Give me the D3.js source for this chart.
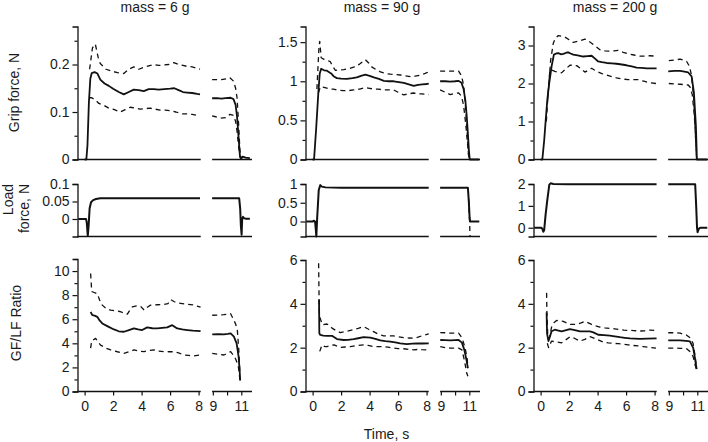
<!DOCTYPE html>
<html><head><meta charset="utf-8">
<script src="https://cdn.jsdelivr.net/npm/d3@7"></script>
<style>
html,body{margin:0;padding:0;background:#fff;}
svg{display:block;font-family:"Liberation Sans",Arial,sans-serif;}
</style></head>
<body>
<svg id="chart" width="708" height="442"></svg>
<script>
// ---------------- DATA ----------------
const masses = ["mass = 6 g", "mass = 90 g", "mass = 200 g"];
const rowLabels = [["Grip force, N"], ["Load", "force, N"], ["GF/LF Ratio"]];
const xTickValues = [0, 2, 4, 6, 8, 9, 10, 11];
const xTickLabels = ["0", "2", "4", "6", "8", "9", "", "11"];
const xLabel = "Time, s";

// Grip force (row 1)
const gripDomains = [[0, 0.28], [0, 1.7], [0, 3.5]];
const gripMajor = [[0, 0.1, 0.2], [0, 0.5, 1, 1.5], [0, 1, 2, 3]];
const gripMinor = [[0.05, 0.15, 0.25], [0.25, 0.75, 1.25], [0.5, 1.5, 2.5]];
// Load force (row 2)
const loadDomains = [[-0.05, 0.1], [-0.4, 1], [-0.4, 2]];
const loadMajor = [[0, 0.05, 0.1], [0, 0.5, 1], [0, 1, 2]];
// GF/LF ratio (row 3)
const ratioDomains = [[0, 11], [0, 6], [0, 6]];
const ratioMajor = [[0, 2, 4, 6, 8, 10], [0, 2, 4, 6], [0, 2, 4, 6]];
const ratioMinor = [[1, 3, 5, 7, 9, 11], [1, 3, 5], [1, 3, 5]];

// ---- grip 6 g
const grip6Mean = [[0,0],[0.12,0],[0.2,0.03],[0.3,0.12],[0.4,0.17],[0.5,0.182],[0.7,0.184],[0.9,0.181],[1.1,0.168],[1.4,0.16],[1.7,0.155],[2.0,0.149],[2.4,0.142],[2.75,0.137],[3.1,0.142],[3.45,0.147],[3.8,0.146],[4.15,0.144],[4.5,0.148],[4.85,0.148],[5.2,0.147],[5.6,0.148],[6.0,0.149],[6.3,0.15],[6.6,0.146],[6.9,0.142],[7.2,0.141],[7.55,0.14],[7.9,0.138],[8.1,0.137],
  [8.95,0.129],[9.3,0.129],[9.6,0.128],[9.9,0.129],[10.25,0.13],[10.45,0.127],[10.6,0.115],[10.7,0.09],[10.8,0.05],[10.9,0.008],[11.0,0.002],[11.1,0.006],[11.3,0.004],[11.6,0.003]];
const grip6Hi = [[0.35,0.19],[0.55,0.235],[0.75,0.243],[0.95,0.215],[1.1,0.202],[1.5,0.19],[1.9,0.186],[2.3,0.183],[2.75,0.181],[3.1,0.19],[3.45,0.195],[3.8,0.19],[4.15,0.194],[4.5,0.197],[4.85,0.2],[5.2,0.198],[5.56,0.199],[5.9,0.2],[6.26,0.204],[6.6,0.2],[6.9,0.198],[7.2,0.196],[7.55,0.195],[7.9,0.192],[8.1,0.19],
  [8.95,0.168],[9.3,0.168],[9.6,0.168],[10.0,0.17],[10.2,0.172],[10.45,0.165],[10.6,0.15],[10.7,0.13],[10.8,0.08],[10.9,0.02],[11.0,0]];
const grip6Lo = [[0.3,0.13],[0.5,0.13],[0.77,0.125],[1.0,0.118],[1.35,0.114],[1.7,0.108],[2.0,0.106],[2.5,0.1],[2.85,0.105],[3.2,0.11],[3.55,0.108],[3.9,0.106],[4.25,0.107],[4.6,0.108],[4.95,0.106],[5.3,0.104],[5.65,0.104],[6.0,0.103],[6.4,0.1],[6.85,0.096],[7.2,0.096],[7.55,0.095],[7.9,0.093],[8.1,0.093],
  [8.95,0.092],[9.2,0.09],[9.5,0.087],[9.9,0.088],[10.2,0.095],[10.45,0.093],[10.6,0.08],[10.7,0.06],[10.8,0.03],[10.9,0.005],[11.0,0]];
// ---- grip 90 g
const grip90Mean = [[0,0],[0.1,0],[0.25,0.4],[0.4,0.85],[0.5,1.1],[0.6,1.16],[0.8,1.14],[1.0,1.135],[1.3,1.1],[1.5,1.06],[1.7,1.04],[2.0,1.035],[2.4,1.03],[2.8,1.04],[3.1,1.05],[3.4,1.07],[3.7,1.084],[4.0,1.07],[4.3,1.05],[4.65,1.03],[5.0,1.006],[5.35,1.0],[5.7,1.0],[6.05,0.99],[6.4,0.98],[6.75,0.96],[7.1,0.94],[7.4,0.955],[7.7,0.96],[8.0,0.965],[8.15,0.97],
  [8.95,1.0],[9.3,1.0],[9.66,0.995],[10.0,1.0],[10.25,1.005],[10.45,0.98],[10.6,0.9],[10.72,0.76],[10.82,0.55],[10.9,0.33],[10.97,0.12],[11.03,0],[11.7,0]];
const grip90Hi = [[0.3,0.9],[0.45,1.45],[0.5,1.51],[0.6,1.3],[0.8,1.28],[1.0,1.27],[1.24,1.25],[1.45,1.18],[1.6,1.14],[1.9,1.145],[2.18,1.15],[2.5,1.16],[2.88,1.18],[3.3,1.22],[3.7,1.276],[3.95,1.23],[4.17,1.18],[4.45,1.15],[4.76,1.12],[5.1,1.1],[5.46,1.09],[5.8,1.085],[6.17,1.08],[6.5,1.07],[6.88,1.06],[7.2,1.065],[7.58,1.08],[7.9,1.1],[8.15,1.12],
  [8.95,1.13],[9.3,1.13],[9.66,1.13],[10.0,1.13],[10.25,1.13],[10.45,1.07],[10.6,0.95],[10.7,0.75],[10.8,0.5],[10.9,0.2],[10.97,0]];
const grip90Lo = [[0.4,0.85],[0.55,0.93],[0.87,0.92],[1.2,0.9],[1.47,0.9],[1.8,0.885],[2.18,0.88],[2.5,0.88],[2.88,0.89],[3.3,0.9],[3.7,0.92],[4.0,0.91],[4.28,0.9],[4.6,0.9],[4.98,0.89],[5.3,0.89],[5.68,0.89],[6.0,0.86],[6.39,0.826],[6.75,0.84],[7.1,0.85],[7.4,0.84],[7.67,0.84],[8.15,0.83],
  [8.95,0.89],[9.3,0.86],[9.66,0.83],[10.0,0.845],[10.25,0.85],[10.45,0.81],[10.6,0.69],[10.75,0.45],[10.85,0.25],[10.95,0.05],[11.0,0]];
// ---- grip 200 g
const grip200Mean = [[0,0],[0.12,0],[0.25,0.5],[0.35,1.0],[0.47,1.57],[0.6,2.0],[0.77,2.45],[0.93,2.76],[1.1,2.79],[1.24,2.8],[1.42,2.77],[1.6,2.78],[1.8,2.81],[1.94,2.82],[2.1,2.79],[2.29,2.76],[2.6,2.74],[2.99,2.71],[3.3,2.72],[3.58,2.73],[3.8,2.66],[4.04,2.58],[4.3,2.56],[4.63,2.54],[5.0,2.53],[5.33,2.52],[5.7,2.5],[6.03,2.48],[6.4,2.45],[6.74,2.42],[7.1,2.41],[7.44,2.4],[7.8,2.4],[8.14,2.4],
  [8.96,2.32],[9.4,2.33],[9.78,2.33],[10.1,2.31],[10.36,2.29],[10.6,2.19],[10.76,1.76],[10.85,1.2],[10.9,0.89],[10.94,0.4],[10.97,0],[11.7,0]];
const grip200Hi = [[0.5,1.6],[0.7,2.6],[0.89,3.06],[1.05,3.2],[1.24,3.26],[1.5,3.24],[1.71,3.22],[2.0,3.15],[2.29,3.08],[2.7,3.12],[3.11,3.17],[3.35,3.12],[3.58,3.06],[3.9,2.97],[4.16,2.89],[4.5,2.86],[4.87,2.85],[5.15,2.86],[5.45,2.87],[5.8,2.82],[6.15,2.78],[6.55,2.75],[6.97,2.72],[7.3,2.72],[7.67,2.73],[8.1,2.72],
  [9.0,2.6],[9.4,2.62],[9.8,2.64],[10.05,2.61],[10.25,2.58],[10.45,2.45],[10.6,2.2],[10.75,1.6],[10.85,0.8],[10.95,0]];
const grip200Lo = [[0.4,1.0],[0.55,1.9],[0.65,2.36],[0.8,2.35],[1.0,2.32],[1.2,2.3],[1.47,2.28],[1.75,2.38],[2.06,2.48],[2.3,2.48],[2.53,2.47],[2.8,2.4],[3.11,2.3],[3.35,2.35],[3.58,2.4],[3.8,2.35],[4.04,2.3],[4.3,2.26],[4.63,2.22],[5.0,2.18],[5.33,2.15],[5.7,2.12],[6.15,2.1],[6.5,2.1],[6.85,2.1],[7.25,2.06],[7.67,2.02],[8.1,2.0],
  [9.0,2.0],[9.4,1.99],[9.8,1.98],[10.1,1.97],[10.36,1.96],[10.5,1.9],[10.65,1.7],[10.8,1.1],[10.9,0.4],[10.95,0]];

// ---- load force
const load6Mean = [[-0.45,0],[0.1,0],[0.15,-0.01],[0.22,-0.048],[0.28,-0.02],[0.35,0.03],[0.45,0.048],[0.6,0.054],[0.8,0.057],[1.1,0.059],[2,0.059],[4,0.059],[6,0.059],[8.1,0.059],
  [8.95,0.059],[10,0.059],[10.85,0.059],[10.92,0.03],[10.97,-0.02],[11.02,-0.045],[11.06,0.0],[11.12,0.006],[11.2,0.002],[11.3,0.001],[11.6,0.001]];
const load90Mean = [[-0.45,0],[0.0,0],[0.1,0.02],[0.17,0.0],[0.22,-0.2],[0.26,-0.4],[0.32,0.1],[0.43,0.84],[0.54,0.97],[0.65,0.93],[0.9,0.91],[2,0.9],[4,0.9],[6,0.9],[8.15,0.9],
  [8.95,0.9],[10,0.9],[10.9,0.9],[10.97,0.5],[11.02,0.1],[11.06,0.0],[11.7,0]];
const load90Lo = [[10.95,0.6],[11.02,0.0],[11.05,-0.4]];
const load200Mean = [[-0.45,0],[0.05,0],[0.12,-0.05],[0.19,-0.18],[0.25,-0.1],[0.35,0.6],[0.47,1.27],[0.61,1.97],[0.7,2.03],[0.9,2.0],[2,1.99],[4,1.99],[6,1.99],[8.14,1.99],
  [8.96,1.99],[10,1.99],[10.85,1.99],[10.92,1.0],[10.98,0.0],[11.02,-0.2],[11.1,-0.05],[11.2,0],[11.7,0]];

// ---- GF/LF ratio
const ratio6Mean = [[0.42,6.6],[0.54,6.34],[0.7,6.3],[0.89,6.2],[1.05,5.9],[1.24,5.65],[1.59,5.43],[2.06,5.15],[2.4,5.0],[2.76,4.96],[3.11,5.1],[3.46,5.24],[3.75,5.15],[4.04,5.1],[4.39,5.32],[4.75,5.25],[5.1,5.24],[5.45,5.28],[5.8,5.32],[6.15,5.51],[6.5,5.24],[6.85,5.15],[7.2,5.1],[7.6,5.05],[8.14,5.02],
  [8.96,4.74],[9.4,4.76],[9.78,4.74],[10.05,4.78],[10.25,4.82],[10.48,4.55],[10.67,4.0],[10.81,2.9],[10.88,1.8],[10.92,0.9]];
const ratio6Hi = [[0.42,9.8],[0.5,8.3],[0.7,8.2],[0.89,8.13],[1.05,7.6],[1.24,7.17],[1.5,6.9],[1.83,6.76],[2.2,6.7],[2.53,6.62],[3.0,6.42],[3.2,6.8],[3.35,7.02],[3.65,7.1],[3.93,7.07],[4.18,6.76],[4.4,7.0],[4.63,7.17],[5.1,7.2],[5.57,7.22],[5.85,7.3],[6.04,7.63],[6.3,7.45],[6.5,7.35],[6.85,7.3],[7.2,7.24],[7.6,7.2],[8.14,7.0],
  [8.96,6.33],[9.4,6.35],[9.78,6.38],[10.25,6.46],[10.48,5.91],[10.6,5.6],[10.72,5.1],[10.82,3.5],[10.9,1.5]];
const ratio6Lo = [[0.42,3.6],[0.5,4.2],[0.77,4.41],[1.12,3.85],[1.5,3.6],[1.83,3.45],[2.3,3.3],[2.76,3.17],[3.1,3.3],[3.46,3.45],[3.8,3.35],[4.18,3.31],[4.5,3.4],[4.88,3.45],[5.2,3.35],[5.57,3.31],[5.9,3.3],[6.27,3.3],[6.6,3.2],[6.97,3.03],[7.3,3.0],[7.67,2.95],[8.14,3.03],
  [8.96,3.17],[9.3,3.1],[9.78,3.03],[10.25,3.31],[10.48,2.95],[10.6,2.7],[10.72,2.34],[10.8,2.0],[10.9,1.0]];
const ratio90Mean = [[0.45,4.2],[0.47,2.66],[0.54,2.58],[0.75,2.55],[1.0,2.54],[1.36,2.54],[1.71,2.39],[2.18,2.35],[2.5,2.36],[2.88,2.39],[3.2,2.43],[3.58,2.48],[4.05,2.46],[4.4,2.4],[4.75,2.33],[5.1,2.3],[5.45,2.28],[5.8,2.24],[6.15,2.2],[6.62,2.16],[7.0,2.18],[7.33,2.2],[7.7,2.19],[8.15,2.2],
  [8.96,2.35],[9.3,2.34],[9.66,2.33],[10.0,2.34],[10.25,2.35],[10.48,2.23],[10.65,1.9],[10.8,1.44],[10.9,1.06]];
const ratio90Hi = [[0.42,5.85],[0.45,4.4],[0.48,3.42],[0.7,3.04],[1.0,3.08],[1.2,3.0],[1.36,2.89],[1.65,2.78],[1.94,2.69],[2.4,2.75],[2.88,2.82],[3.2,2.88],[3.58,2.96],[3.9,2.85],[4.28,2.73],[4.6,2.62],[4.98,2.54],[5.3,2.54],[5.68,2.54],[6.0,2.5],[6.39,2.46],[6.75,2.44],[7.1,2.43],[7.4,2.48],[7.67,2.54],[8.15,2.63],
  [8.96,2.69],[9.3,2.68],[9.66,2.66],[10.0,2.66],[10.25,2.66],[10.5,2.43],[10.7,2.0],[10.85,1.5],[10.9,1.1]];
const ratio90Lo = [[0.5,1.83],[0.66,2.13],[0.85,2.05],[1.0,2.05],[1.25,2.1],[1.5,2.13],[1.94,2.01],[2.3,2.03],[2.65,2.05],[3.1,2.1],[3.58,2.13],[3.9,2.1],[4.28,2.05],[4.6,2.05],[4.98,2.05],[5.3,2.02],[5.68,1.98],[6.0,1.96],[6.39,1.95],[6.75,1.92],[7.1,1.9],[7.4,1.92],[7.67,1.91],[8.15,1.9],
  [8.96,2.05],[9.3,2.0],[9.66,1.98],[10.0,1.98],[10.25,1.98],[10.48,1.9],[10.65,1.44],[10.82,0.83],[10.9,0.7]];
const ratio200Mean = [[0.42,3.6],[0.45,2.65],[0.55,2.3],[0.65,2.5],[0.77,2.75],[1.0,2.82],[1.25,2.78],[1.47,2.74],[1.8,2.8],[2.06,2.85],[2.4,2.8],[2.76,2.74],[3.1,2.74],[3.46,2.74],[3.7,2.7],[4.04,2.59],[4.45,2.57],[4.86,2.55],[5.2,2.52],[5.57,2.48],[5.9,2.45],[6.27,2.42],[6.6,2.41],[6.97,2.4],[7.5,2.41],[8.14,2.42],
  [8.96,2.33],[9.4,2.33],[9.78,2.33],[10.2,2.31],[10.48,2.29],[10.71,1.99],[10.83,1.54],[10.95,1.02]];
const ratio200Hi = [[0.42,4.5],[0.44,3.6],[0.5,2.6],[0.6,2.4],[0.77,2.94],[0.95,3.15],[1.12,3.24],[1.35,3.22],[1.59,3.2],[1.85,3.12],[2.06,3.06],[2.3,3.06],[2.53,3.06],[2.8,3.12],[3.11,3.2],[3.35,3.13],[3.58,3.06],[3.85,3.0],[4.16,2.94],[4.5,2.9],[4.86,2.88],[5.2,2.86],[5.57,2.83],[5.85,2.8],[6.15,2.79],[6.55,2.78],[6.97,2.76],[7.3,2.77],[7.67,2.8],[8.1,2.79],
  [8.96,2.68],[9.4,2.68],[9.8,2.66],[10.25,2.57],[10.5,2.45],[10.7,2.2],[10.85,1.6],[10.95,1.05]];
const ratio200Lo = [[0.47,2.2],[0.56,2.0],[0.66,2.15],[0.77,2.3],[1.1,2.26],[1.47,2.22],[1.75,2.35],[2.06,2.5],[2.4,2.42],[2.76,2.3],[3.1,2.38],[3.46,2.5],[3.7,2.45],[3.93,2.39],[4.4,2.25],[4.75,2.22],[5.1,2.2],[5.45,2.18],[5.8,2.16],[6.15,2.13],[6.5,2.1],[6.85,2.08],[7.2,2.05],[7.6,2.02],[8.1,1.98],
  [8.96,1.98],[9.4,1.98],[9.8,1.97],[10.25,1.95],[10.48,1.82],[10.7,1.6],[10.85,1.2],[10.95,1.0]];

// ---------------- LAYOUT ----------------
const svg = d3.select("#chart");
const colX = [77.5, 305.5, 533.5];
const panelW = 174.5;
const xDomain = [-0.5, 11.75];
const seg1 = [-0.5, 8.15], seg2 = [8.95, 11.75];
const rowRanges = [[159.5, 26.5], [236.5, 184], [391.5, 259]];
const titleX = [155, 382, 615];
const ink = "#111";
const fmt = d3.format("~g");

const rows = [
  { domains: gripDomains, major: gripMajor, minor: gripMinor, axisAtZero: true,
    series: [[grip6Mean, grip6Hi, grip6Lo], [grip90Mean, grip90Hi, grip90Lo], [grip200Mean, grip200Hi, grip200Lo]] },
  { domains: loadDomains, major: loadMajor, minor: [[],[],[]], axisAtZero: false,
    series: [[load6Mean], [load90Mean, null, load90Lo], [load200Mean]] },
  { domains: ratioDomains, major: ratioMajor, minor: ratioMinor, axisAtZero: true,
    series: [[ratio6Mean, ratio6Hi, ratio6Lo], [ratio90Mean, ratio90Hi, ratio90Lo], [ratio200Mean, ratio200Hi, ratio200Lo]] }
];

function splitGap(data) {
  return [data.filter(d => d[0] < 8.5), data.filter(d => d[0] > 8.5)].filter(s => s.length > 1);
}

rows.forEach((row, r) => {
  for (let c = 0; c < 3; c++) {
    const x = d3.scaleLinear().domain(xDomain).range([colX[c], colX[c] + panelW]);
    let range = rowRanges[r];
    if (r === 2 && c > 0) range = [391.5, 260];
    const y = d3.scaleLinear().domain(row.domains[c]).range(range);
    const g = svg.append("g");

    // y axis (major)
    const ya = g.append("g").attr("transform", `translate(${colX[c]},0)`)
      .call(d3.axisLeft(y).tickValues(row.major[c]).tickSize(5).tickPadding(3).tickFormat(fmt));
    ya.select(".domain").attr("stroke", ink).attr("stroke-width", 1.3);
    ya.selectAll(".tick line").attr("stroke", ink).attr("stroke-width", 1.2);
    ya.selectAll(".tick text").attr("fill", "#1a1a1a").style("font-size", "14px")
      .style("font-family", '"Liberation Sans", Arial, sans-serif');
    // minor ticks
    const ym = g.append("g").attr("transform", `translate(${colX[c]},0)`)
      .call(d3.axisLeft(y).tickValues(row.minor[c]).tickSize(3).tickFormat(""));
    ym.select(".domain").remove();
    ym.selectAll(".tick line").attr("stroke", ink).attr("stroke-width", 1.2);

    // broken x axis
    const xAxisY = row.axisAtZero ? y(0) : range[0];
    [seg1, seg2].forEach(s => {
      g.append("line").attr("x1", x(s[0])).attr("x2", x(s[1]))
        .attr("y1", xAxisY).attr("y2", xAxisY)
        .attr("stroke", ink).attr("stroke-width", 1.5);
    });
    if (r === 2) {
      const xa = g.append("g").attr("transform", `translate(0,${xAxisY})`)
        .call(d3.axisBottom(x).tickValues(xTickValues).tickSize(4).tickPadding(6)
          .tickFormat((d, i) => xTickLabels[i]));
      xa.select(".domain").remove();
      xa.selectAll(".tick line").attr("stroke", ink).attr("stroke-width", 1.2);
      xa.selectAll(".tick text").attr("fill", "#1a1a1a").style("font-size", "14px")
        .style("font-family", '"Liberation Sans", Arial, sans-serif');
    }

    // lines
    const line = d3.line().x(d => x(d[0])).y(d => y(d[1]));
    const ser = row.series[c];
    ser.forEach((data, k) => {
      if (!data) return;
      splitGap(data).forEach(seg => {
        const p = g.append("path").attr("d", line(seg)).attr("fill", "none")
          .attr("stroke", ink).attr("stroke-linejoin", "round");
        if (k === 0) p.attr("stroke-width", r === 1 ? 2 : 1.8);
        else p.attr("stroke-width", 1.3).attr("stroke-dasharray", "5,4");
      });
    });
  }
});

// titles
masses.forEach((m, i) => {
  svg.append("text").attr("x", titleX[i]).attr("y", 12).attr("text-anchor", "middle")
    .attr("fill", "#1a1a1a").style("font-size", "14px").text(m);
});
// row labels
svg.append("text").attr("transform", "translate(18.5,92.5) rotate(-90)")
  .attr("text-anchor", "middle").attr("fill", "#1a1a1a").style("font-size", "14px").text(rowLabels[0][0]);
svg.append("text").attr("transform", "translate(13,184) rotate(-90)")
  .attr("text-anchor", "end").attr("fill", "#1a1a1a").style("font-size", "14px").text(rowLabels[1][0]);
svg.append("text").attr("transform", "translate(28.5,184) rotate(-90)")
  .attr("text-anchor", "end").attr("fill", "#1a1a1a").style("font-size", "14px").text(rowLabels[1][1]);
svg.append("text").attr("transform", "translate(20.5,323) rotate(-90)")
  .attr("text-anchor", "middle").attr("fill", "#1a1a1a").style("font-size", "14px").text(rowLabels[2][0]);
// x label
svg.append("text").attr("x", 386.5).attr("y", 439).attr("text-anchor", "middle")
  .attr("fill", "#1a1a1a").style("font-size", "14px").text(xLabel);
</script>
</body></html>
